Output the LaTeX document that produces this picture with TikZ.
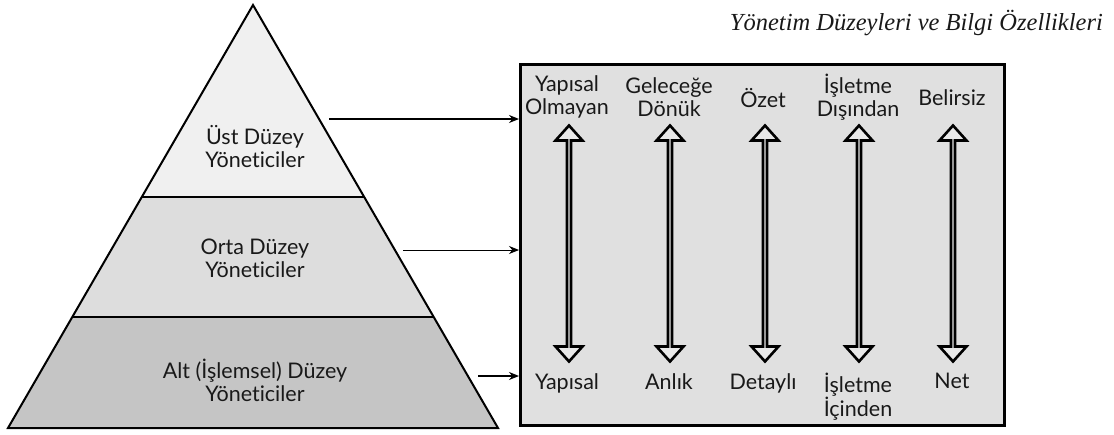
\documentclass[tikz,border=0pt]{standalone}
\usepackage{fontspec}
\setmainfont{Lato}[Ligatures={NoCommon}]
\newfontfamily\titlefont{Liberation Serif}
\usetikzlibrary{shapes.arrows, arrows.meta}
\definecolor{tierA}{RGB}{240,240,240}
\definecolor{tierB}{RGB}{221,221,221}
\definecolor{tierC}{RGB}{197,197,197}
\definecolor{boxfill}{RGB}{224,224,224}
\definecolor{arrfill}{RGB}{232,232,232}
\definecolor{ink}{RGB}{25,25,25}
\begin{document}
\begin{tikzpicture}[x=1pt,y=-1pt,
  lbl/.style={font=\fontsize{21.5}{23}\selectfont, align=center, text=ink, inner sep=0pt},
  dbl/.style={double arrow, draw=black, line width=2.6pt, fill=arrfill,
    minimum height=236pt, minimum width=27pt, double arrow head extend=7.5pt,
    double arrow tip angle=84, rotate=90, inner sep=0pt},
  conn/.style={-{Stealth[length=10pt,width=8pt]}, line width=1.8pt},
  edge/.style={line width=2pt, line join=miter}
]
\useasboundingbox (0,0) rectangle (1114,434);

% pyramid
\coordinate (apex) at (253,5);
\coordinate (bl) at (8,428);
\coordinate (br) at (498,428);
\coordinate (l1) at (142,197);
\coordinate (r1) at (364,197);
\coordinate (l2) at (72,317);
\coordinate (r2) at (434,317);
\fill[tierA] (apex) -- (r1) -- (l1) -- cycle;
\fill[tierB] (l1) -- (r1) -- (r2) -- (l2) -- cycle;
\fill[tierC] (l2) -- (r2) -- (br) -- (bl) -- cycle;
\draw[edge] (apex) -- (br) -- (bl) -- cycle;
\draw[edge] (l1) -- (r1);
\draw[edge] (l2) -- (r2);

\node[lbl] (ust) at (255,146.5) {Üst Düzey\\Yöneticiler};
\node[lbl] (orta) at (255,258.5) {Orta Düzey\\Yöneticiler};
\node[lbl] (alt) at (255,380) {Alt (İşlemsel) Düzey\\Yöneticiler};

% box
\node[draw=black, line width=2.5pt, fill=boxfill, minimum width=484pt, minimum height=361pt,
  anchor=north west, inner sep=0pt] (box) at (519,63) {};

% connectors
\coordinate (s1) at (329,119);
\coordinate (s2) at (403,250);
\coordinate (s3) at (478,376);
\draw[conn] (s1) -- (s1 -| box.west);
\draw[conn, line width=1pt] (s2) -- (s2 -| box.west);
\draw[conn] (s3) -- (s3 -| box.west);

% columns
\node[lbl] (t1) at (567,97) {Yapısal\\Olmayan};
\node[lbl] (t2) at (669,97) {Geleceğe\\Dönük};
\node[lbl] (t3) at (763,98) {Özet};
\node[lbl] (t4) at (858,97) {İşletme\\Dışından};
\node[lbl] (t5) at (952,98) {Belirsiz};

\node[dbl] (a1) at (569,243.5) {};
\node[dbl] (a2) at (670,243.5) {};
\node[dbl] (a3) at (765,243.5) {};
\node[dbl] (a4) at (859,243.5) {};
\node[dbl] (a5) at (953,243.5) {};

\node[lbl, anchor=north] (b1) at (567,373) {Yapısal};
\node[lbl, anchor=north] (b2) at (669,373) {Anlık};
\node[lbl, anchor=north] (b3) at (763,373) {Detaylı};
\node[lbl, anchor=north] (b4) at (858,373) {İşletme\\İçinden};
\node[lbl, anchor=north] (b5) at (952,373) {Net};

% title
\node[anchor=east, inner sep=0pt, text=ink, font=\titlefont\itshape\fontsize{24.5}{26}\selectfont] (title) at (1103,23) {Yönetim Düzeyleri ve Bilgi Özellikleri};
\end{tikzpicture}
\end{document}
